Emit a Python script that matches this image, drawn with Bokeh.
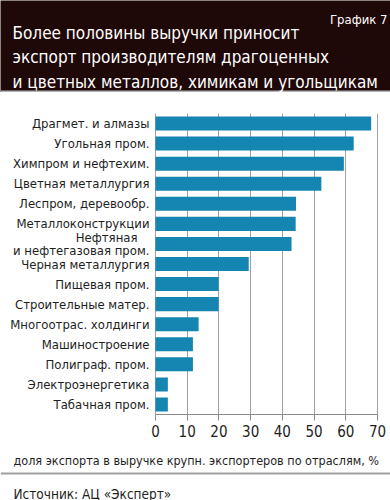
from bokeh.plotting import figure
from bokeh.models import Range1d, FactorRange, ColumnDataSource, LabelSet, FixedTicker
from bokeh.layouts import column
from bokeh.embed import file_html
from bokeh.resources import INLINE
from bokeh.core.properties import value

FONT = "DejaVu Sans Condensed"

title_lines = ["Более половины выручки приносит",
               "экспорт производителям драгоценных",
               "и цветных металлов, химикам и угольщикам"]
chart_no = "График 7"
categories = ["Драгмет. и алмазы", "Угольная пром.", "Химпром и нефтехим.",
              "Цветная металлургия", "Леспром, деревообр.", "Металлоконструкции",
              "Нефтяная\nи нефтегазовая пром.", "Черная металлургия", "Пищевая пром.",
              "Строительные матер.", "Многоотрас. холдинги", "Машиностроение",
              "Полиграф. пром.", "Электроэнергетика", "Табачная пром."]
shares = [68.0, 62.5, 59.4, 52.3, 44.3, 44.2, 42.9, 29.4, 19.9, 19.9, 13.6, 11.8, 11.8, 3.9, 3.9]
x_ticks = [0, 10, 20, 30, 40, 50, 60, 70]
x_label = "доля экспорта в выручке крупн. экспортеров по отраслям, %"
source_text = "Источник: АЦ «Эксперт»"

W = 390
HEAD_H, MAIN_H, FOOT_H = 92, 350, 58
DARK = "#1f0808"
BAR = "#1585b2"
TXT = "#1e1e1e"
GRID = "#a0a0a0"


def bare(fig, fill):
    fig.axis.visible = False
    fig.grid.visible = False
    fig.outline_line_color = None
    fig.background_fill_color = fill
    fig.border_fill_color = fill


# ---- header
h = figure(width=W, height=HEAD_H, x_range=Range1d(0, W), y_range=Range1d(HEAD_H, 0),
           output_backend="svg", toolbar_location=None, min_border=0)
bare(h, DARK)
h.segment(x0=[0], y0=[91], x1=[W], y1=[91], line_color="#b4b4b4", line_width=2)
h.text(x=[12, 12, 12], y=[32, 56, 81], text=title_lines, text_color="white",
       text_font=value(FONT), text_font_size="17px", text_baseline="alphabetic")
h.text(x=[387], y=[19], text=[chart_no], text_color="white", text_align="right",
       text_font=value(FONT), text_font_size="13px", text_baseline="alphabetic")

# ---- main chart (frame spans the full width; the value axis is bounded to 0..70)
p = figure(width=W, height=MAIN_H, x_range=Range1d(-48.87, 74.10),
           y_range=FactorRange(factors=list(reversed(categories))),
           output_backend="svg", toolbar_location=None,
           min_border_left=0, min_border_right=0, min_border_top=21, min_border_bottom=28)
p.outline_line_color = None
p.hbar(y=categories, right=shares, left=0, height=0.7, fill_color=BAR, line_color=None)
p.yaxis.visible = False
p.ygrid.visible = False
p.xgrid.ticker = FixedTicker(ticks=x_ticks)
p.xgrid.grid_line_color = GRID
p.xgrid.grid_line_width = 1
p.xaxis.ticker = FixedTicker(ticks=x_ticks)
p.xaxis.bounds = (x_ticks[0], x_ticks[-1])
p.xaxis.major_tick_in = 0
p.xaxis.major_tick_out = 6
p.xaxis.minor_tick_line_color = None
p.xaxis.axis_line_color = "#8a8a8a"
p.xaxis.major_tick_line_color = "#8a8a8a"
p.xaxis.major_label_text_font = FONT
p.xaxis.major_label_text_font_size = "15px"
p.xaxis.major_label_text_color = TXT
p.xaxis.major_label_standoff = 4

lx, ly, lt, lxo, lyo = [], [], [], [], []
for cat in categories:
    parts = cat.split("\n")
    n = len(parts)
    for i, part in enumerate(parts):
        lx.append(0)
        ly.append(cat)
        lt.append(part)
        lxo.append(-6 - (12 if (n > 1 and i == 0) else 0))
        lyo.append(((n - 1) / 2 - i) * 13)
src = ColumnDataSource(dict(x=lx, y=ly, t=lt, xo=lxo, yo=lyo))
p.add_layout(LabelSet(x="x", y="y", text="t", x_offset="xo", y_offset="yo", source=src,
                      text_align="right", text_baseline="middle",
                      text_font=value(FONT), text_font_size=value("13px"),
                      text_color=TXT))

# ---- footer
f = figure(width=W, height=FOOT_H, x_range=Range1d(0, W), y_range=Range1d(FOOT_H, 0),
           output_backend="svg", toolbar_location=None, min_border=0)
bare(f, "white")
f.text(x=[13], y=[18], text=[x_label], text_color=TXT, text_font=value(FONT),
       text_font_size="12.5px", text_baseline="alphabetic")
f.segment(x0=[0], y0=[31], x1=[W], y1=[31], line_color=GRID, line_width=2)
f.text(x=[13], y=[51], text=[source_text], text_color=TXT, text_font=value(FONT),
       text_font_size="13.5px", text_baseline="alphabetic")

layout = column(h, p, f, spacing=0)
open("out.html", "w").write(file_html(layout, INLINE))
